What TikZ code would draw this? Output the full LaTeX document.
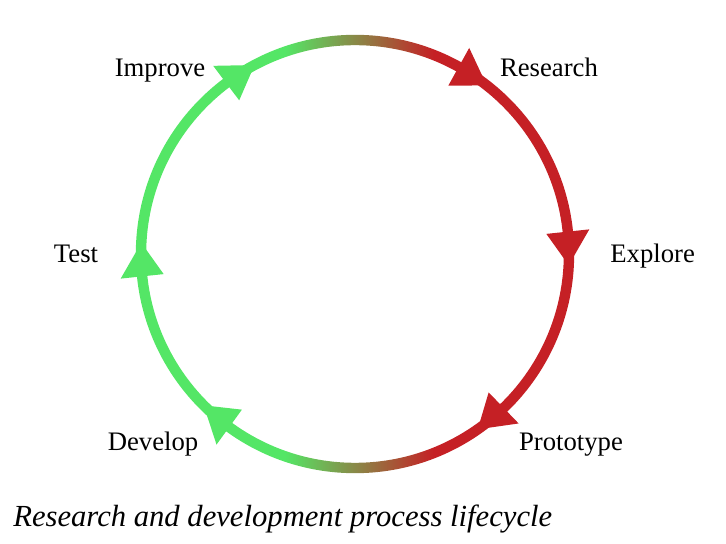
\documentclass[tikz,border=0pt]{standalone}
\usepackage{fontspec}
\setmainfont{Liberation Serif}
\definecolor{ringgreen}{RGB}{84,230,102}
\definecolor{ringred}{RGB}{197,32,37}
\pgfdeclarehorizontalshading{ringfade}{100bp}{color(0bp)=(ringgreen); color(42bp)=(ringgreen); color(59bp)=(ringred); color(100bp)=(ringred)}
\begin{document}
\begin{tikzpicture}[step label/.style = {anchor=base, font=\fontsize{19}{22}\selectfont}]
		\useasboundingbox (-8.875,-7.25) rectangle (9.275,6.35);
		% ring, green on the left, red on the right
		\shade[shading=ringfade, even odd rule] (0,0) circle (5.48) (0,0) circle (5.22);
		\foreach \a/\c in {52/ringred, -3/ringred, -55/ringred, 225/ringgreen, 177/ringgreen, 118/ringgreen}
			\fill[\c] (\a:5.35) -- (\a+9:4.81) -- (\a+9:5.89) -- cycle;
		\node[step label] (improve) at (-4.875,4.425) {Improve};
		\node[step label] (research) at (4.85,4.425) {Research};
		\node[step label] (explore) at (7.44,-0.225) {Explore};
		\node[step label] (prototype) at (5.4,-4.91) {Prototype};
		\node[step label] (develop) at (-5.05,-4.91) {Develop};
		\node[step label] (test) at (-6.975,-0.225) {Test};
		\node[anchor=base west, inner sep=0pt, font=\itshape\fontsize{21.8}{25}\selectfont] (caption) at (-8.55,-6.825) {Research and development process lifecycle};
	\end{tikzpicture}
\end{document}
